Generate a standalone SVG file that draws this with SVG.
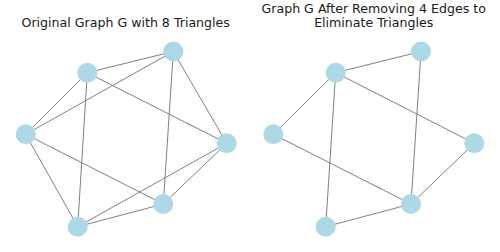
<svg xmlns="http://www.w3.org/2000/svg" width="500" height="252" viewBox="0 0 500 252">
<style>
.t{font-family:"DejaVu Sans",sans-serif;font-size:12.6px;fill:#1a1a1a;text-anchor:middle}
.e line{stroke:#808080;stroke-width:1}
.n{fill:#add8e6}
</style>
<rect width="500" height="252" fill="#fff"/>
<text class="t" x="125.7" y="27.3">Original Graph G with 8 Triangles</text>
<text class="t" x="373.7" y="13.3">Graph G After Removing 4 Edges to</text>
<text class="t" x="373.7" y="27">Eliminate Triangles</text>
<g id="edges-left" class="e">
<line x1="173.3" y1="51.5" x2="87.3" y2="72.7"/>
<line x1="173.3" y1="51.5" x2="25.7" y2="134.3"/>
<line x1="173.3" y1="51.5" x2="226.7" y2="143.3"/>
<line x1="173.3" y1="51.5" x2="163.3" y2="204"/>
<line x1="87.3" y1="72.7" x2="25.7" y2="134.3"/>
<line x1="87.3" y1="72.7" x2="226.7" y2="143.3"/>
<line x1="87.3" y1="72.7" x2="77.7" y2="226.7"/>
<line x1="25.7" y1="134.3" x2="163.3" y2="204"/>
<line x1="25.7" y1="134.3" x2="77.7" y2="226.7"/>
<line x1="226.7" y1="143.3" x2="163.3" y2="204"/>
<line x1="226.7" y1="143.3" x2="77.7" y2="226.7"/>
<line x1="163.3" y1="204" x2="77.7" y2="226.7"/>
</g>
<g id="edges-right" class="e">
<line x1="421" y1="51.5" x2="335.7" y2="72.7"/>
<line x1="421" y1="51.5" x2="411" y2="204"/>
<line x1="335.7" y1="72.7" x2="273.3" y2="134.3"/>
<line x1="335.7" y1="72.7" x2="474.3" y2="143.3"/>
<line x1="335.7" y1="72.7" x2="325.7" y2="226.7"/>
<line x1="273.3" y1="134.3" x2="411" y2="204"/>
<line x1="474.3" y1="143.3" x2="411" y2="204"/>
<line x1="411" y1="204" x2="325.7" y2="226.7"/>
</g>
<g id="L0"><circle class="n" cx="173.3" cy="51.5" r="10"/></g>
<g id="L1"><circle class="n" cx="87.3" cy="72.7" r="10"/></g>
<g id="L2"><circle class="n" cx="25.7" cy="134.3" r="10"/></g>
<g id="L3"><circle class="n" cx="226.7" cy="143.3" r="10"/></g>
<g id="L4"><circle class="n" cx="163.3" cy="204" r="10"/></g>
<g id="L5"><circle class="n" cx="77.7" cy="226.7" r="10"/></g>
<g id="R0"><circle class="n" cx="421" cy="51.5" r="10"/></g>
<g id="R1"><circle class="n" cx="335.7" cy="72.7" r="10"/></g>
<g id="R2"><circle class="n" cx="273.3" cy="134.3" r="10"/></g>
<g id="R3"><circle class="n" cx="474.3" cy="143.3" r="10"/></g>
<g id="R4"><circle class="n" cx="411" cy="204" r="10"/></g>
<g id="R5"><circle class="n" cx="325.7" cy="226.7" r="10"/></g>
</svg>
